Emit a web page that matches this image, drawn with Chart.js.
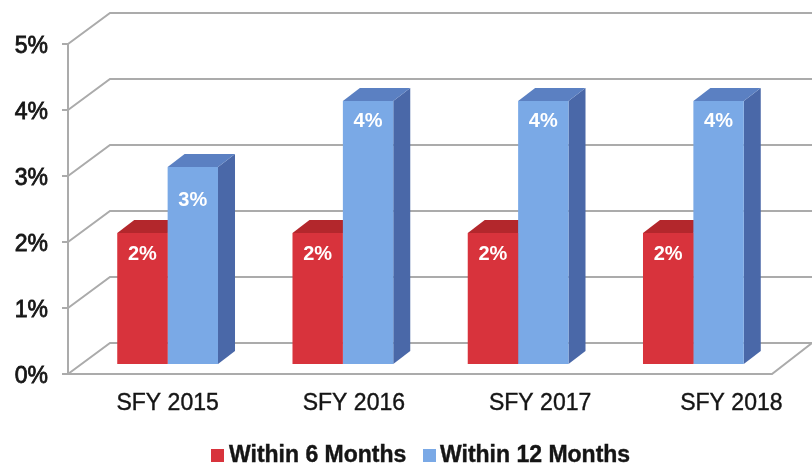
<!DOCTYPE html>
<html>
<head>
<meta charset="utf-8">
<style>
html, body { margin: 0; padding: 0; background: #fff; }
canvas { display: block; filter: blur(0.5px); }
</style>
</head>
<body>
<canvas id="grafica" width="812" height="466"></canvas>
<script src="https://cdn.jsdelivr.net/npm/chart.js@4/dist/chart.umd.min.js"></script>
<script>
const categories = ["SFY 2015", "SFY 2016", "SFY 2017", "SFY 2018"];
const within6 = [2, 2, 2, 2];
const within12 = [3, 4, 4, 4];
const yTicks = [0, 1, 2, 3, 4, 5];

// depth of the fake 3D box
const WALL_DX = 42, WALL_DY = 31;
const BAR_DX = 12, BAR_DY = 9;
const SIDE_DX = 17, SIDE_DY = 13;
const FLOOR_RIGHT = 772;
// the x labels drift right of their bars in the original
const labelNudge = [0, 11, 22, 38];
// how far below the bar top each value label sits
const labelDrop = { 2: 21, 3: 33, 4: 20 };

const FONT = '"Liberation Sans", Arial, sans-serif';
const GRID = "#ababab";
const INK = "#151515";

function line(ctx, pts, color, width) {
    ctx.beginPath();
    pts.forEach((p, i) => i ? ctx.lineTo(p[0], p[1]) : ctx.moveTo(p[0], p[1]));
    ctx.strokeStyle = color;
    ctx.lineWidth = width;
    ctx.stroke();
}

function face(ctx, pts, color) {
    ctx.beginPath();
    pts.forEach((p, i) => i ? ctx.lineTo(p[0], p[1]) : ctx.moveTo(p[0], p[1]));
    ctx.closePath();
    ctx.fillStyle = color;
    ctx.fill();
}

const box3d = {
    id: "box3d",
    beforeDatasetsDraw(chart) {
        const ctx = chart.ctx, y = chart.scales.y, area = chart.chartArea;
        // back wall and left wall lines
        yTicks.forEach(v => {
            const py = y.getPixelForValue(v);
            line(ctx, [[area.left, py], [area.left + WALL_DX, py - WALL_DY], [812, py - WALL_DY]], GRID, 2);
        });
        // floor
        const py0 = y.getPixelForValue(0);
        line(ctx, [[area.left, py0], [FLOOR_RIGHT, py0], [812, py0 - WALL_DY]], GRID, 2);

        // side and top of the bars, red first so blue covers it
        chart.data.datasets.forEach((ds, i) => {
            chart.getDatasetMeta(i).data.forEach(el => {
                const r = el.x + el.width / 2 + BAR_DX, l = el.x - el.width / 2 + BAR_DX;
                const t = el.y - BAR_DY, b = el.base - BAR_DY;
                face(ctx, [[r, t], [r + SIDE_DX, t - SIDE_DY], [r + SIDE_DX, b - SIDE_DY], [r, b]], ds.sideColor);
                face(ctx, [[l, t], [l + SIDE_DX, t - SIDE_DY], [r + SIDE_DX, t - SIDE_DY], [r, t]], ds.topColor);
            });
        });
    },
    beforeDatasetDraw(chart) {
        chart.ctx.save();
        chart.ctx.translate(BAR_DX, -BAR_DY);
    },
    afterDatasetDraw(chart) {
        chart.ctx.restore();
    },
    afterDatasetsDraw(chart) {
        const ctx = chart.ctx, x = chart.scales.x;

        // value labels
        ctx.save();
        ctx.textAlign = "center";
        ctx.textBaseline = "middle";
        ctx.fillStyle = "#fff";
        ctx.font = "bold 20px " + FONT;
        chart.data.datasets.forEach((ds, i) => {
            chart.getDatasetMeta(i).data.forEach((el, j) => {
                const v = ds.data[j];
                ctx.fillText(v + "%", el.x + BAR_DX, el.y - BAR_DY + labelDrop[v]);
            });
        });

        // category labels
        ctx.fillStyle = INK;
        ctx.strokeStyle = INK;
        ctx.lineWidth = 0.4;
        ctx.font = "23px " + FONT;
        categories.forEach((c, i) => {
            const cx = x.getPixelForTick(i) + 12 + labelNudge[i];
            ctx.fillText(c, cx, 404);
            ctx.strokeText(c, cx, 404);
        });

        // legend
        ctx.textAlign = "left";
        ctx.font = "bold 23px " + FONT;
        const legendX = [[211, 229], [423, 440]];
        chart.data.datasets.forEach((ds, i) => {
            ctx.fillStyle = ds.backgroundColor;
            ctx.fillRect(legendX[i][0], 449, 13, 13);
            ctx.fillStyle = INK;
            ctx.fillText(ds.label, legendX[i][1], 456);
            ctx.strokeText(ds.label, legendX[i][1], 456);
        });
        ctx.restore();
    }
};

new Chart(document.getElementById("grafica"), {
    type: "bar",
    data: {
        labels: categories,
        datasets: [
            { label: "Within 6 Months", data: within6, backgroundColor: "#d8333c", topColor: "#b3272c", sideColor: "#a82428" },
            { label: "Within 12 Months", data: within12, backgroundColor: "#7aa9e6", topColor: "#5b80c2", sideColor: "#4a68a8" }
        ]
    },
    options: {
        responsive: false,
        animation: false,
        layout: { padding: { top: 44, right: 43, left: 0, bottom: 0 } },
        categoryPercentage: 0.575,
        barPercentage: 1,
        plugins: { legend: { display: false }, tooltip: { enabled: false } },
        scales: {
            x: {
                grid: { display: false },
                border: { display: false },
                ticks: { display: false },
                afterFit(scale) { scale.height = 92; }
            },
            y: {
                min: 0,
                max: 5,
                afterBuildTicks(scale) { scale.ticks = yTicks.map(v => ({ value: v })); },
                afterFit(scale) { scale.width = 68; },
                grid: { drawOnChartArea: false, tickLength: 6, color: GRID, lineWidth: 2 },
                border: { color: GRID, width: 2 },
                ticks: {
                    padding: 14,
                    labelOffset: 3,
                    color: INK,
                    textStrokeColor: INK,
                    textStrokeWidth: 0.8,
                    font: { family: FONT, size: 23 },
                    callback: v => v + "%"
                }
            }
        }
    },
    plugins: [box3d]
});
</script>
</body>
</html>
